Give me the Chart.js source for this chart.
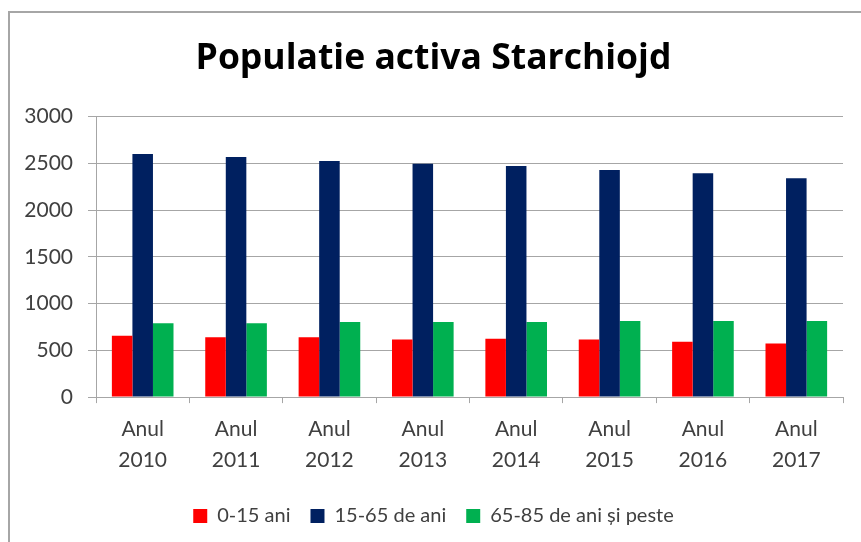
<!DOCTYPE html>
<html lang="ro">

<head>
    <meta charset="UTF-8">
    <meta name="viewport" content="width=device-width, initial-scale=1.0">
    <script src="https://cdn.jsdelivr.net/npm/chart.js@4.4.1/dist/chart.umd.min.js"></script>
    <title>Populatie activa Starchiojd</title>
    <style>
        body { margin: 0; background: #fff; }
        #frame { position: absolute; left: 8px; top: 11px; width: 880px; height: 600px;
                 border-left: 2px solid #a6a6a6; border-top: 2px solid #a6a6a6; }
        #wrap { position: absolute; left: 0; top: 0; width: 861px; height: 542px; }
    </style>
</head>

<body>
    <div id="frame"></div>
    <div id="wrap">
        <canvas id="myChart" width="861" height="542"></canvas>
    </div>
    <script>
        // date
        var v_labels = [["Anul", "2010"], ["Anul", "2011"], ["Anul", "2012"], ["Anul", "2013"],
                        ["Anul", "2014"], ["Anul", "2015"], ["Anul", "2016"], ["Anul", "2017"]];
        var v_copii = [655, 641, 641, 617, 624, 617, 592, 574];        // 0-15 ani
        var v_adulti = [2600, 2567, 2524, 2496, 2471, 2429, 2394, 2340]; // 15-65 de ani
        var v_varstnici = [790, 790, 804, 804, 804, 815, 815, 815];   // 65-85 de ani si peste
        var v_yTicks = [0, 500, 1000, 1500, 2000, 2500, 3000];

        const ctx = document.getElementById('myChart').getContext('2d');
        Chart.defaults.font.family = "Lato, 'Open Sans', sans-serif";

        const myChart = new Chart(ctx, {
            type: 'bar',
            data: {
                labels: v_labels,
                datasets: [{
                    label: '0-15 ani',
                    data: v_copii,
                    backgroundColor: '#ff0000'
                }, {
                    label: '15-65 de ani',
                    data: v_adulti,
                    backgroundColor: '#002060'
                }, {
                    label: '65-85 de ani și peste',
                    data: v_varstnici,
                    backgroundColor: '#00b050'
                }]
            },
            options: {
                responsive: false,
                animation: false,
                layout: { padding: { left: 24, right: 18, top: 38, bottom: 6 } },
                datasets: { bar: { categoryPercentage: 0.66, barPercentage: 1 } },
                plugins: {
                    title: {
                        display: true,
                        text: 'Populatie activa Starchiojd',
                        color: '#000',
                        font: { family: "'Open Sans', Lato, sans-serif", size: 35.5, weight: 'bold' },
                        padding: { top: 0, bottom: 36 }
                    },
                    legend: {
                        position: 'bottom',
                        labels: {
                            color: '#404040',
                            font: { size: 20 },
                            boxWidth: 14,
                            boxHeight: 14,
                            padding: 20
                        }
                    },
                    tooltip: { enabled: false }
                },
                scales: {
                    x: {
                        grid: { display: true, drawOnChartArea: false, offset: true, tickLength: 6, color: '#a6a6a6' },
                        border: { color: '#a6a6a6' },
                        ticks: { color: '#404040', font: { size: 21, lineHeight: 1.45 }, padding: 11, maxRotation: 0 }
                    },
                    y: {
                        min: 0,
                        max: 3000,
                        afterBuildTicks: function (axis) {
                            axis.ticks = v_yTicks.map(function (v) { return { value: v }; });
                        },
                        afterFit: function (axis) { axis.width = 72; },
                        grid: { color: '#a6a6a6', tickLength: 8 },
                        border: { color: '#a6a6a6' },
                        ticks: {
                            color: '#404040', font: { size: 21 }, padding: 15,
                            callback: function (v) { return String(v); }
                        }
                    }
                }
            }
        });
    </script>

</body>

</html>
